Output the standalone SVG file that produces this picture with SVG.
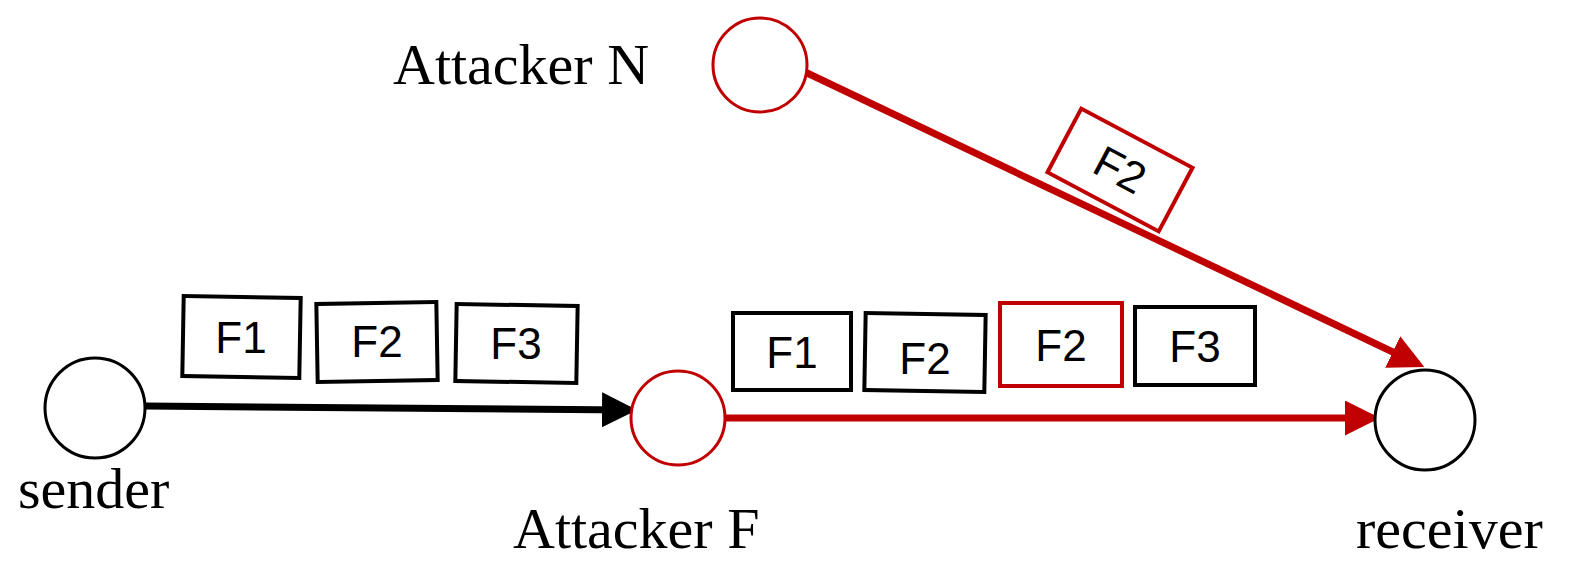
<svg xmlns="http://www.w3.org/2000/svg" width="1576" height="565" viewBox="0 0 1576 565">
<style>
.lbl{font-family:"Liberation Serif",serif;font-size:58px;fill:#000}
.bt{font-family:"Liberation Sans",sans-serif;font-size:44px;fill:#000;text-anchor:middle}
.bx{fill:#fff;stroke:#000;stroke-width:4}
.rb{fill:#fff;stroke:#c00000;stroke-width:4}
</style>
<defs>
<marker id="ab" markerWidth="5" markerHeight="5" refX="4" refY="2.5" orient="auto" markerUnits="strokeWidth" viewBox="0 0 5 5"><path d="M0,0L5,2.5L0,5z" fill="#000"/></marker>
<marker id="ar" markerWidth="5" markerHeight="5" refX="4" refY="2.5" orient="auto" markerUnits="strokeWidth" viewBox="0 0 5 5"><path d="M0,0L5,2.5L0,5z" fill="#c00000"/></marker>
</defs>
<g id="connectors">
<line x1="145" y1="406" x2="630" y2="410" stroke="#000" stroke-width="7" marker-end="url(#ab)"/>
<line x1="725" y1="418" x2="1373" y2="418" stroke="#c00000" stroke-width="7" marker-end="url(#ar)"/>
<line x1="805" y1="72" x2="1418" y2="364" stroke="#c00000" stroke-width="7" marker-end="url(#ar)"/>
</g>
<g id="sender"><circle cx="95" cy="408" r="50" fill="#fff" stroke="#000" stroke-width="3"/><text class="lbl" x="18" y="508">sender</text></g>
<g id="attackerF"><circle cx="678" cy="418" r="47" fill="#fff" stroke="#c00000" stroke-width="3"/><text class="lbl" x="513" y="548">Attacker F</text></g>
<g id="attackerN"><circle cx="760" cy="65" r="47" fill="#fff" stroke="#c00000" stroke-width="3"/><text class="lbl" x="393" y="84">Attacker N</text></g>
<g id="receiver"><circle cx="1425" cy="420" r="50" fill="#fff" stroke="#000" stroke-width="3"/><text class="lbl" x="1356" y="548">receiver</text></g>
<g id="b1"><rect class="bx" x="183" y="297" width="117" height="80" transform="rotate(1 241 337)"/><text class="bt" x="241" y="353">F1</text></g>
<g id="b2"><rect class="bx" x="317" y="303" width="120" height="78" transform="rotate(-1 377 342)"/><text class="bt" x="377" y="357">F2</text></g>
<g id="b3"><rect class="bx" x="456" y="305" width="121" height="77" transform="rotate(1 516 343)"/><text class="bt" x="516" y="359">F3</text></g>
<g id="b4"><rect class="bx" x="733" y="313" width="118" height="77"/><text class="bt" x="792" y="368">F1</text></g>
<g id="b5"><rect class="bx" x="865" y="314" width="120" height="77" transform="rotate(1 925 352)"/><text class="bt" x="925" y="374">F2</text></g>
<g id="b6"><rect class="rb" x="1000" y="303" width="122" height="83"/><text class="bt" x="1061" y="361">F2</text></g>
<g id="b7"><rect class="bx" x="1135" y="307" width="120" height="78"/><text class="bt" x="1195" y="362">F3</text></g>
<g id="b8" transform="rotate(28 1120 170)"><rect class="rb" x="1057" y="134" width="126" height="72"/><text class="bt" x="1120" y="185">F2</text></g>
</svg>
